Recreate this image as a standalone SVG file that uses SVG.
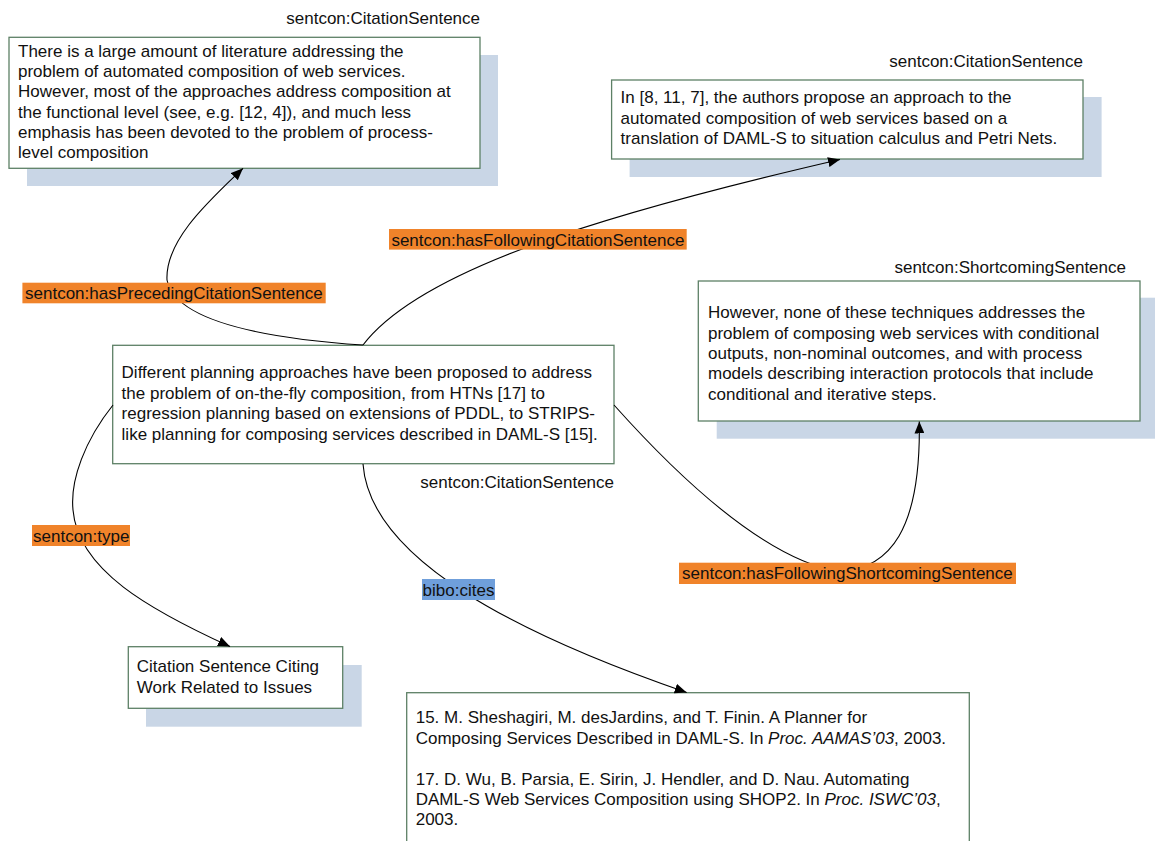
<svg xmlns="http://www.w3.org/2000/svg" width="1155" height="841" viewBox="0 0 1155 841">
<style>
text{font-family:"Liberation Sans",Arial,sans-serif;font-size:17px;fill:#111}
.box{fill:#fff;stroke:#5d8066;stroke-width:1.3}
.shadow{fill:#c9d6e6;stroke:none}
.edge{fill:none;stroke:#000;stroke-width:1.1;marker-end:url(#arr)}
.edge2{fill:none;stroke:#000;stroke-width:1.1}
.lo{fill:#f0832a}
.lb{fill:#6f9fdb}
.end{text-anchor:end}
</style>
<defs>
<marker id="arr" viewBox="0 0 12 10" refX="12" refY="5" markerWidth="12" markerHeight="10" orient="auto" markerUnits="userSpaceOnUse"><path d="M0,0 L12,5 L0,10 z" fill="#000"/></marker>
</defs>
<rect width="1155" height="841" fill="#fff"/>

<g id="node-preceding">
<rect class="shadow" x="27" y="55" width="471" height="131"/>
<rect class="box" x="9" y="37.3" width="471" height="131"/>
<text class="end" x="480" y="24">sentcon:CitationSentence</text>
<text x="18" y="56.7">There is a large amount of literature addressing the</text>
<text x="18" y="77">problem of automated composition of web services.</text>
<text x="18" y="97.3">However, most of the approaches address composition at</text>
<text x="18" y="117.6">the functional level (see, e.g. [12, 4]), and much less</text>
<text x="18" y="137.9">emphasis has been devoted to the problem of process-</text>
<text x="18" y="158.2">level composition</text>
</g>

<g id="node-following">
<rect class="shadow" x="629.6" y="97" width="472" height="80"/>
<rect class="box" x="611.6" y="80" width="471.4" height="79"/>
<text class="end" x="1083" y="66.7">sentcon:CitationSentence</text>
<text x="620.6" y="103.3">In [8, 11, 7], the authors propose an approach to the</text>
<text x="620.6" y="123.6">automated composition of web services based on a</text>
<text x="620.6" y="143.9">translation of DAML-S to situation calculus and Petri Nets.</text>
</g>

<g id="node-shortcoming">
<rect class="shadow" x="716.7" y="297.7" width="441.7" height="141"/>
<rect class="box" x="698.3" y="281" width="441.7" height="140"/>
<text class="end" x="1126" y="273">sentcon:ShortcomingSentence</text>
<text x="708" y="318.3">However, none of these techniques addresses the</text>
<text x="708" y="338.6">problem of composing web services with conditional</text>
<text x="708" y="358.9">outputs, non-nominal outcomes, and with process</text>
<text x="708" y="379.2">models describing interaction protocols that include</text>
<text x="708" y="399.5">conditional and iterative steps.</text>
</g>

<g id="node-central">
<rect class="box" x="112.7" y="345.3" width="501.3" height="118.4"/>
<text x="121.6" y="378.3">Different planning approaches have been proposed to address</text>
<text x="121.6" y="398.8">the problem of on-the-fly composition, from HTNs [17] to</text>
<text x="121.6" y="419.3">regression planning based on extensions of PDDL, to STRIPS-</text>
<text x="121.6" y="439.8">like planning for composing services described in DAML-S [15].</text>
<text class="end" x="614" y="488">sentcon:CitationSentence</text>
</g>

<g id="node-type">
<rect class="shadow" x="146" y="665" width="215.7" height="61.7"/>
<rect class="box" x="128.3" y="646.7" width="214.4" height="61.6"/>
<text x="136.7" y="672.3">Citation Sentence Citing</text>
<text x="136.7" y="692.7">Work Related to Issues</text>
</g>

<g id="node-references">
<rect class="box" x="406.7" y="692.7" width="562.6" height="170"/>
<text x="415.7" y="723.3">15. M. Sheshagiri, M. desJardins, and T. Finin. A Planner for</text>
<text x="415.7" y="743.6">Composing Services Described in DAML-S. In <tspan font-style="italic">Proc. AAMAS’03</tspan>, 2003.</text>
<text x="415.7" y="784.5">17. D. Wu, B. Parsia, E. Sirin, J. Hendler, and D. Nau. Automating</text>
<text x="415.7" y="804.8">DAML-S Web Services Composition using SHOP2. In <tspan font-style="italic">Proc. ISWC’03</tspan>,</text>
<text x="415.7" y="825.1">2003.</text>
</g>

<g id="connectors">
<path class="edge" d="M363,345 C260,338 175,320 167,280 C165,240 210,200 243,168.3"/>
<path class="edge" d="M363,345 C420,270 600,215 840,159.5"/>
<path class="edge" d="M113,405 C85,440 70,480 73,510 C78,570 150,610 230,646.5"/>
<path class="edge" d="M363,464 C370,560 520,635 686.7,692.5"/>
<path class="edge" d="M614,405 C690,490 770,560 840,572 C890,568 921,530 919.3,421.5"/>

<rect class="lo" x="22.4" y="282.7" width="303.3" height="20.6"/>
<text x="25" y="299.2">sentcon:hasPrecedingCitationSentence</text>
<rect class="lo" x="389" y="229" width="297.7" height="20.6"/>
<text x="391.4" y="245.5">sentcon:hasFollowingCitationSentence</text>
<rect class="lo" x="32" y="525" width="98" height="21"/>
<text x="33" y="541.7">sentcon:type</text>
<rect class="lb" x="422" y="579" width="73" height="21"/>
<text x="422.6" y="595.6">bibo:cites</text>
<rect class="lo" x="679" y="562.7" width="337" height="21.3"/>
<text x="682" y="579.3">sentcon:hasFollowingShortcomingSentence</text>
</g>
</svg>
